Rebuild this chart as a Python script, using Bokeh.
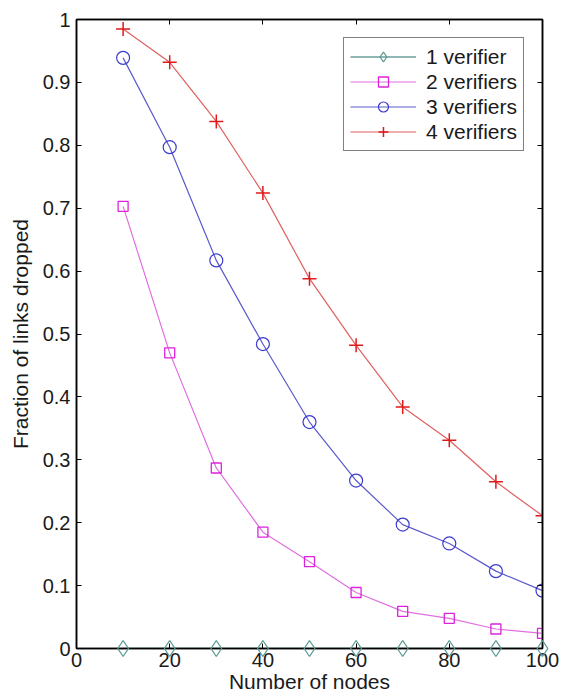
from bokeh.plotting import figure
from bokeh.models import Range1d, LinearAxis, FixedTicker, Legend, LegendItem
from bokeh.embed import file_html
from bokeh.resources import INLINE

nodes = [10, 20, 30, 40, 50, 60, 70, 80, 90, 100]
v1 = [0, 0, 0, 0, 0, 0, 0, 0, 0, 0]
v2 = [0.703, 0.470, 0.287, 0.185, 0.138, 0.089, 0.059, 0.048, 0.031, 0.024]
v3 = [0.939, 0.797, 0.617, 0.484, 0.360, 0.267, 0.197, 0.167, 0.123, 0.092]
v4 = [0.985, 0.932, 0.838, 0.724, 0.588, 0.482, 0.384, 0.331, 0.265, 0.211]
labels = ["1 verifier", "2 verifiers", "3 verifiers", "4 verifiers"]
x_ticks = [0, 20, 40, 60, 80, 100]
y_ticks = [0, 0.1, 0.2, 0.3, 0.4, 0.5, 0.6, 0.7, 0.8, 0.9, 1]

FONT = "Liberation Sans"
FS = "20px"
FS_L = "21px"
TXT = "#1a1a1a"

p = figure(width=561, height=698, output_backend="svg", toolbar_location=None,
           x_range=Range1d(0, 100), y_range=Range1d(0, 1),
           min_border_left=76, min_border_top=19, min_border_right=19, min_border_bottom=50,
           background_fill_color="white", border_fill_color="white")
p.grid.visible = False
p.outline_line_color = "black"
p.outline_line_width = 1.5

def style_axis(ax, ticks, show_labels):
    ax.ticker = FixedTicker(ticks=ticks)
    ax.axis_line_color = "black"
    ax.axis_line_width = 1.5
    ax.major_tick_in = 5
    ax.major_tick_out = 0
    ax.major_tick_line_color = "black"
    ax.minor_tick_line_color = None
    ax.major_label_text_font = FONT
    if show_labels:
        ax.major_label_text_font_size = FS
        ax.major_label_text_color = TXT
    else:
        ax.major_label_text_font_size = "0px"
        ax.major_label_text_color = None
        ax.major_label_standoff = 0

xa = p.xaxis[0]
ya = p.yaxis[0]
style_axis(xa, x_ticks, True)
style_axis(ya, y_ticks, True)
xa.major_label_overrides = {t: str(t) for t in x_ticks}
ya.major_label_overrides = {t: f"{t:g}" for t in y_ticks}
xa.major_label_standoff = 4
ya.major_label_standoff = 6
xa.axis_label = "Number of nodes"
ya.axis_label = "Fraction of links dropped"
for ax in (xa, ya):
    ax.axis_label_text_font = FONT
    ax.axis_label_text_font_size = FS_L
    ax.axis_label_text_font_style = "normal"
    ax.axis_label_text_color = TXT
xa.axis_label_standoff = 0
ya.axis_label_standoff = 8

top = LinearAxis()
right = LinearAxis()
style_axis(top, x_ticks, False)
style_axis(right, y_ticks, False)
p.add_layout(top, "above")
p.add_layout(right, "right")

c1, c2, c3, c4 = "#5a9a94", "#dd22dd", "#3a3ad0", "#e01818"
l1c, l2c, l3c, l4c = "#6a9e9a", "#e070e0", "#5a5acc", "#e06060"

r1l = p.line(nodes, v1, line_color=l1c, line_width=1.3)
r1m = p.scatter(nodes, v1, marker="diamond", size=16, fill_color=None, line_color=c1, line_width=1.3)
r2l = p.line(nodes, v2, line_color=l2c, line_width=1.2)
r2m = p.scatter(nodes, v2, marker="square", size=10, fill_color=None, line_color=c2, line_width=1.3)
r3l = p.line(nodes, v3, line_color=l3c, line_width=1.2)
r3m = p.scatter(nodes, v3, marker="circle", size=13, fill_color=None, line_color=c3, line_width=1.2)
r4l = p.line(nodes, v4, line_color=l4c, line_width=1.2)
r4m = p.scatter(nodes, v4, marker="cross", size=14, line_color=c4, line_width=1.5)
r1m.level = "overlay"

legend = Legend(items=[
    LegendItem(label=labels[0], renderers=[r1l, r1m]),
    LegendItem(label=labels[1], renderers=[r2l, r2m]),
    LegendItem(label=labels[2], renderers=[r3l, r3m]),
    LegendItem(label=labels[3], renderers=[r4l, r4m]),
], location="top_right")
legend.margin = 18
legend.padding = 6
legend.spacing = 0
legend.glyph_width = 66
legend.glyph_height = 25
legend.label_height = 25
legend.label_standoff = 10
legend.label_text_font = FONT
legend.label_text_font_size = FS_L
legend.label_text_color = TXT
legend.border_line_color = "black"
legend.border_line_width = 1.2
legend.background_fill_color = "white"
legend.background_fill_alpha = 1
p.add_layout(legend)

open("out.html", "w").write(file_html(p, INLINE))
